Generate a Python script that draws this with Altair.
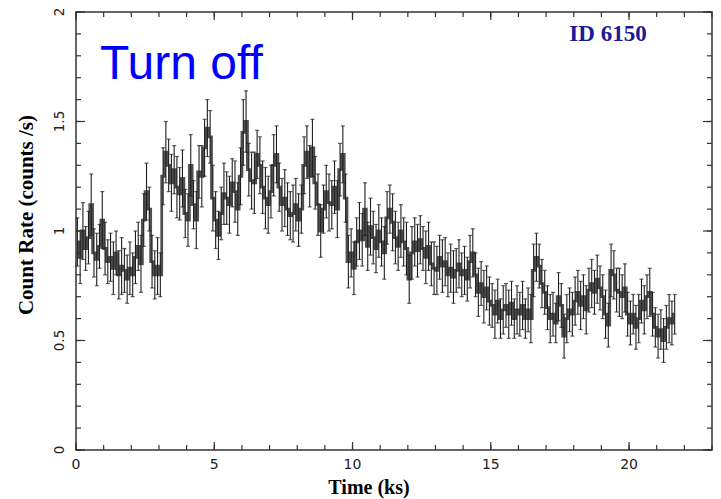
import altair as alt
import pandas as pd

# ---- data (bins of 0.1 ks) ----
bin_width = 0.1  # ks
rates = [
    0.95, 0.88, 1.00, 0.92, 0.97, 1.12, 0.90, 0.87, 0.93, 1.05,
    0.92, 0.86, 0.88, 0.83, 0.90, 0.80, 0.84, 0.82, 0.78, 0.83,
    0.80, 0.88, 0.93, 0.85, 1.05, 1.18, 1.10, 0.86, 0.80, 0.84,
    0.80, 1.25, 1.36, 1.30, 1.22, 1.28, 1.20, 1.17, 1.24, 1.08,
    1.05, 1.30, 1.12, 1.05, 1.27, 1.25, 1.38, 1.47, 1.43, 1.15,
    1.05, 0.98, 1.08, 1.17, 1.15, 1.12, 1.22, 1.18, 1.10, 1.25,
    1.45, 1.50, 1.28, 1.23, 1.22, 1.35, 1.30, 1.20, 1.15, 1.12,
    1.18, 1.30, 1.35, 1.20, 1.12, 1.15, 1.10, 1.07, 1.08, 1.12,
    1.05, 1.10, 1.30, 1.36, 1.25, 1.38, 1.22, 1.12, 1.00, 1.10,
    1.18, 1.13, 1.12, 1.20, 1.10, 1.28, 1.35, 1.15, 0.86, 0.90,
    0.83, 0.95, 1.00, 0.96, 1.10, 0.93, 1.02, 0.97, 0.92, 1.00,
    0.95, 0.90, 1.06, 1.10, 1.04, 0.97, 0.93, 1.00, 0.95, 0.92,
    0.78, 0.90, 0.95, 0.91, 0.96, 0.92, 0.88, 0.93, 0.85, 0.83,
    0.82, 0.88, 0.84, 0.86, 0.80, 0.83, 0.79, 0.82, 0.85, 0.80,
    0.82, 0.78, 0.86, 0.90, 0.80, 0.72, 0.76, 0.70, 0.74, 0.68,
    0.66, 0.62, 0.68, 0.60, 0.64, 0.66, 0.62, 0.67, 0.60, 0.64,
    0.62, 0.66, 0.60, 0.64, 0.60, 0.82, 0.88, 0.84, 0.76, 0.72,
    0.65, 0.60, 0.62, 0.58, 0.70, 0.66, 0.52, 0.60, 0.64, 0.62,
    0.68, 0.72, 0.66, 0.70, 0.64, 0.73, 0.76, 0.72, 0.78, 0.74,
    0.70, 0.62, 0.57, 0.82, 0.80, 0.73, 0.72, 0.70, 0.74, 0.62,
    0.58, 0.62, 0.56, 0.60, 0.68, 0.64, 0.70, 0.72, 0.62, 0.56,
    0.52, 0.55, 0.50, 0.56, 0.60, 0.58, 0.62,
]
errors = [
    0.11, 0.12, 0.13, 0.10, 0.12, 0.14, 0.11, 0.12, 0.10, 0.13,
    0.12, 0.10, 0.11, 0.12, 0.10, 0.11, 0.13, 0.10, 0.11, 0.12,
    0.10, 0.12, 0.11, 0.13, 0.12, 0.13, 0.10, 0.12, 0.11, 0.13,
    0.10, 0.13, 0.14, 0.12, 0.13, 0.11, 0.14, 0.12, 0.13, 0.11,
    0.12, 0.14, 0.11, 0.13, 0.12, 0.14, 0.13, 0.13, 0.12, 0.15,
    0.13, 0.11, 0.12, 0.14, 0.12, 0.13, 0.11, 0.14, 0.12, 0.13,
    0.15, 0.14, 0.12, 0.13, 0.14, 0.11, 0.13, 0.12, 0.14, 0.13,
    0.12, 0.14, 0.13, 0.11, 0.12, 0.13, 0.12, 0.11, 0.13, 0.12,
    0.12, 0.11, 0.13, 0.12, 0.14, 0.13, 0.12, 0.14, 0.12, 0.11,
    0.12, 0.13, 0.11, 0.12, 0.13, 0.12, 0.13, 0.11, 0.12, 0.11,
    0.12, 0.11, 0.13, 0.12, 0.12, 0.11, 0.13, 0.12, 0.11, 0.12,
    0.11, 0.12, 0.12, 0.11, 0.13, 0.12, 0.11, 0.12, 0.11, 0.12,
    0.11, 0.12, 0.11, 0.12, 0.11, 0.10, 0.12, 0.11, 0.10, 0.12,
    0.11, 0.10, 0.12, 0.11, 0.10, 0.11, 0.12, 0.10, 0.11, 0.10,
    0.11, 0.10, 0.12, 0.11, 0.10, 0.11, 0.10, 0.12, 0.10, 0.11,
    0.10, 0.11, 0.10, 0.09, 0.11, 0.10, 0.11, 0.10, 0.09, 0.11,
    0.10, 0.11, 0.09, 0.10, 0.11, 0.12, 0.11, 0.10, 0.11, 0.10,
    0.10, 0.11, 0.10, 0.09, 0.11, 0.10, 0.10, 0.11, 0.10, 0.10,
    0.11, 0.10, 0.11, 0.10, 0.11, 0.10, 0.11, 0.10, 0.11, 0.10,
    0.10, 0.11, 0.10, 0.12, 0.11, 0.10, 0.11, 0.10, 0.11, 0.10,
    0.10, 0.09, 0.10, 0.11, 0.10, 0.11, 0.10, 0.11, 0.10, 0.09,
    0.10, 0.09, 0.10, 0.10, 0.11, 0.10, 0.09,
]
x_major = [0, 5, 10, 15, 20]
x_minor = list(range(0, 24))
y_major = [0, 0.5, 1, 1.5, 2]
y_minor = [round(0.1 * i, 1) for i in range(21)]
x_domain = [0, 23]
y_domain = [0, 2]
x_title = "Time (ks)"
y_title = "Count Rate (counts /s)"
annotation = "Turn off"
source_id = "ID 6150"

W, H = 636, 438

t = [round(bin_width * (i + 0.5), 3) for i in range(len(rates))]
df = pd.DataFrame({"t": t, "rate": rates, "err": errors})
df["lo"] = df["rate"] - df["err"]
df["hi"] = df["rate"] + df["err"]

xscale = alt.Scale(domain=x_domain, nice=False, zero=False)
yscale = alt.Scale(domain=y_domain, nice=False, zero=False)

TICK = "#333333"
INK = "#1e1e1e"
LABEL_FONT = "DejaVu Sans"
TITLE_FONT = "Liberation Serif"


def X(field):
    return alt.X(field, type="quantitative", scale=xscale, axis=None)


def Y(field):
    return alt.Y(field, type="quantitative", scale=yscale, axis=None)


base = alt.Chart(df)

step = base.mark_line(interpolate="step", strokeWidth=2.8,
                      color="#505050").encode(x=X("t"), y=Y("rate"))

bars = base.mark_rule(color=INK, strokeWidth=1.1).encode(
    x=X("t"), y=Y("lo"), y2="hi:Q")

caps_top = base.mark_tick(orient="horizontal", size=4, thickness=1.2,
                          color=INK).encode(x=X("t"), y=Y("hi"))
caps_bottom = base.mark_tick(orient="horizontal", size=4, thickness=1.2,
                             color=INK).encode(x=X("t"), y=Y("lo"))

# inward frame ticks on all four sides, as rules in data units
dy = (y_domain[1] - y_domain[0]) / H   # data units per pixel (vertical)
dx = (x_domain[1] - x_domain[0]) / W   # data units per pixel (horizontal)
rows = []
for v, L in [(v, 8) for v in x_major] + [(v, 5) for v in x_minor]:
    rows.append((v, v, y_domain[0], y_domain[0] + L * dy))
    rows.append((v, v, y_domain[1], y_domain[1] - L * dy))
for v, L in [(v, 9) for v in y_major] + [(v, 5) for v in y_minor]:
    rows.append((x_domain[0], x_domain[0] + L * dx, v, v))
    rows.append((x_domain[1], x_domain[1] - L * dx, v, v))
frame_ticks = pd.DataFrame(rows, columns=["xa", "xb", "ya", "yb"])

ticks = alt.Chart(frame_ticks).mark_rule(color=TICK, strokeWidth=1.2).encode(
    x=X("xa"), x2="xb:Q", y=Y("ya"), y2="yb:Q")

# tick labels, placed through the scales
x_label_pos = pd.DataFrame({"v": x_major})
y_label_pos = pd.DataFrame({"v": y_major})

x_labels = alt.Chart(x_label_pos).mark_text(
    font=LABEL_FONT, fontSize=14, color="#222222", align="center",
    baseline="middle").encode(
    x=X("v"), y=alt.value(453), text=alt.Text("v:Q", format="~g"))

y_labels = alt.Chart(y_label_pos).mark_text(
    font=LABEL_FONT, fontSize=13.5, color="#222222", align="center",
    baseline="middle", angle=270).encode(
    x=alt.value(-16), y=Y("v"), text=alt.Text("v:Q", format="~g"))

# axis titles
x_title_mark = alt.Chart(pd.DataFrame({"label": [x_title]})).mark_text(
    font=TITLE_FONT, fontSize=20, fontWeight="bold", color="#000000",
    align="center", baseline="middle").encode(
    text="label:N", x=alt.value(293), y=alt.value(476))

y_title_mark = alt.Chart(pd.DataFrame({"label": [y_title]})).mark_text(
    font=TITLE_FONT, fontSize=21, fontWeight="bold", color="#000000",
    align="center", baseline="middle", angle=270).encode(
    text="label:N", x=alt.value(-49), y=alt.value(203))

turn_off = alt.Chart(pd.DataFrame({"label": [annotation]})).mark_text(
    font="Liberation Sans", fontSize=48, color="#0000ff", align="left",
    baseline="alphabetic").encode(
    text="label:N", x=alt.value(24), y=alt.value(67))

id_label = alt.Chart(pd.DataFrame({"label": [source_id]})).mark_text(
    font=TITLE_FONT, fontSize=23, fontWeight="bold", color="#1a1a99",
    align="center", baseline="middle").encode(
    text="label:N", x=alt.value(532), y=alt.value(22))

chart = alt.layer(
    step, bars, caps_top, caps_bottom, ticks,
    x_labels, y_labels, x_title_mark, y_title_mark, turn_off, id_label
).properties(
    width=W, height=H,
    padding={"left": 68, "top": 4, "right": 1, "bottom": 49},
    autosize=alt.AutoSizeParams(type="none"),
    background="white",
).configure_view(stroke="#333333", strokeWidth=1.5)

chart.save("out.html", embed_options={"renderer": "svg", "actions": False})
